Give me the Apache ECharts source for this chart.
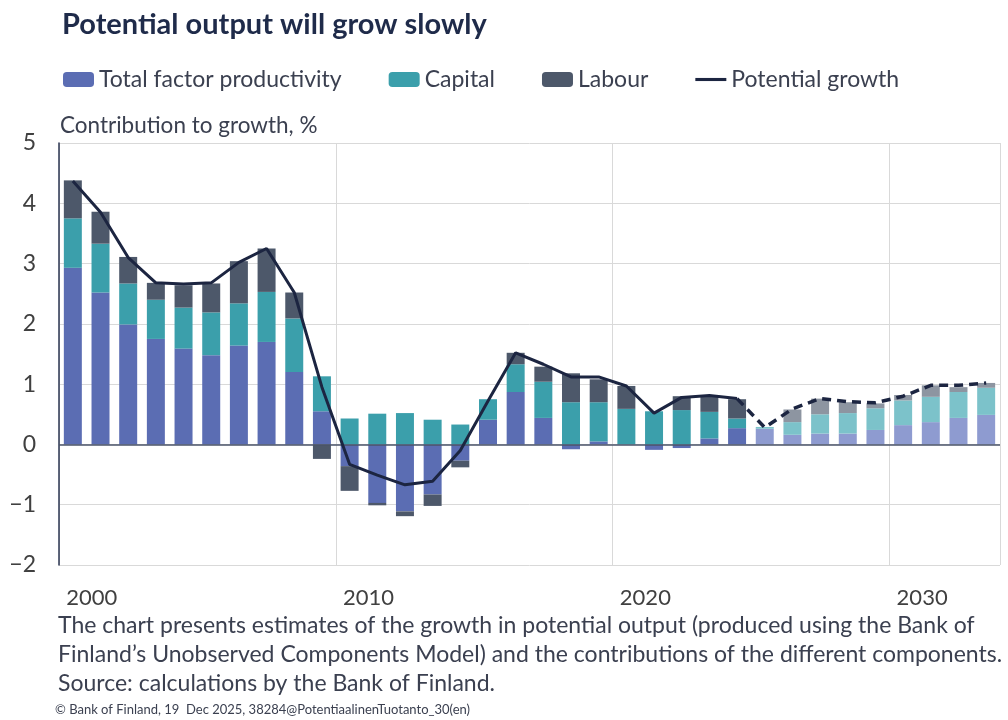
<!DOCTYPE html>
<html>
<head>
<meta charset="utf-8">
<title>Potential output will grow slowly</title>
<script src="https://cdn.jsdelivr.net/npm/echarts@6/dist/echarts.min.js"></script>
<style>
  html, body { margin: 0; padding: 0; background: #fff; }
  #chart { width: 1008px; height: 720px; }
</style>
</head>
<body>
<div id="chart"></div>
<script>
  // data (contribution to growth, %)
  const years = ['2000','2001','2002','2003','2004','2005','2006','2007','2008','2009',
                 '2010','2011','2012','2013','2014','2015','2016','2017','2018','2019',
                 '2020','2021','2022','2023','2024','2025','2026','2027','2028','2029',
                 '2030','2031','2032','2033'];
  const tfp = [2.93, 2.52, 1.99, 1.75, 1.59, 1.48, 1.64, 1.70, 1.20, 0.55,
               -0.36, -0.97, -1.11, -0.83, -0.27, 0.41, 0.87, 0.44, -0.08, 0.05,
               0.00, -0.09, -0.06, 0.10, 0.27, 0.26, 0.16, 0.18, 0.18, 0.24,
               0.32, 0.37, 0.44, 0.49];
  const capital = [0.82, 0.81, 0.68, 0.65, 0.68, 0.71, 0.70, 0.83, 0.89, 0.58,
                   0.43, 0.51, 0.52, 0.41, 0.33, 0.34, 0.46, 0.60, 0.70, 0.65,
                   0.59, 0.55, 0.57, 0.44, 0.16, 0.03, 0.21, 0.32, 0.34, 0.36,
                   0.41, 0.42, 0.43, 0.45];
  const labour = [0.63, 0.53, 0.44, 0.28, 0.37, 0.48, 0.70, 0.72, 0.43, -0.24,
                  -0.41, -0.04, -0.08, -0.19, -0.11, 0.00, 0.19, 0.25, 0.48, 0.38,
                  0.38, 0.00, 0.23, 0.26, 0.32, 0.00, 0.21, 0.26, 0.18, 0.08,
                  0.09, 0.19, 0.08, 0.08];
  const potential = [4.37, 3.85, 3.10, 2.68, 2.66, 2.68, 3.02, 3.25, 2.52, 0.95,
                     -0.33, -0.51, -0.67, -0.61, -0.10, 0.72, 1.52, 1.33, 1.12, 1.12,
                     0.97, 0.52, 0.78, 0.81, 0.76, 0.28, 0.59, 0.76, 0.71, 0.69,
                     0.80, 0.98, 0.98, 1.02];
  const lastActual = '2024';   // solid line up to here, dashed after
  const forecastFrom = '2025'; // bars drawn in lighter tones from here

  const font = 'Lato';
  const textCol = '#3b4050';

  const barData = (vals, base, light) => vals.map((v, i) => ({
    value: v,
    itemStyle: { color: years[i] >= forecastFrom ? light : base }
  }));
  const solid = potential.map((v, i) => years[i] <= lastActual ? v : null);
  const dashed = potential.map((v, i) => years[i] >= lastActual ? v : null);

  const chart = echarts.init(document.getElementById('chart'));
  const option = {
    animation: false,
    textStyle: { fontFamily: font },
    title: {
      text: 'Potential output will grow slowly',
      left: 57, top: 5,
      textStyle: { fontFamily: font, fontSize: 29, fontWeight: 'bold', color: '#1f2b4a' }
    },
    legend: {
      data: [
        { name: 'Total factor productivity' },
        { name: 'Capital' },
        { name: 'Labour' },
        { name: 'Potential growth', icon: 'path://M0,0H40V4H0Z' }
      ],
      left: 58, top: 63,
      itemWidth: 31, itemHeight: 15, itemGap: 47,
      textStyle: { fontFamily: font, fontSize: 23, color: textCol }
    },
    graphic: [
      { type: 'text', left: 60, top: 114,
        style: { text: 'Contribution to growth, %', font: '22.5px Lato', fill: textCol } },
      { type: 'text', left: 58, top: 614,
        style: { text: 'The chart presents estimates of the growth in potential output (produced using the Bank of', font: '23px Lato', fill: textCol } },
      { type: 'text', left: 58, top: 643,
        style: { text: 'Finland\u2019s Unobserved Components Model) and the contributions of the different components.', font: '23px Lato', fill: textCol } },
      { type: 'text', left: 58, top: 672,
        style: { text: 'Source: calculations by the Bank of Finland.', font: '23px Lato', fill: textCol } },
      { type: 'text', left: 55, top: 703,
        style: { text: '\u00a9 Bank of Finland, 19  Dec 2025, 38284@PotentiaalinenTuotanto_30(en)', font: '13px Lato', fill: textCol } }
    ],
    grid: { left: 59, right: 8, top: 143, bottom: 155 },
    xAxis: {
      type: 'category',
      data: years,
      boundaryGap: true,
      axisLine: { show: false },
      axisTick: { show: false },
      axisLabel: {
        interval: (i) => i % 10 === 0,
        fontSize: 22, color: '#404040', margin: 22,
        padding: [0, 0, 0, 38]
      },
      splitLine: {
        show: true,
        interval: (i) => i % 10 === 0,
        lineStyle: { color: '#d9d9d9', width: 1 }
      }
    },
    yAxis: {
      type: 'value',
      min: -2, max: 5, interval: 1,
      axisLine: { show: true, lineStyle: { color: '#2a3450', width: 1.5 } },
      axisTick: { show: false },
      axisLabel: {
        fontSize: 23, color: '#404040', margin: 23,
        formatter: (v) => v < 0 ? '\u2212' + Math.abs(v) : String(v)
      },
      splitLine: { lineStyle: { color: '#d9d9d9', width: 1 } }
    },
    series: [
      {
        name: 'Total factor productivity', type: 'bar', stack: 'c', barWidth: '65%',
        itemStyle: { color: '#5b6db3' },
        data: barData(tfp, '#5b6db3', '#8e9bd0'),
        markLine: {
          silent: true, symbol: 'none', label: { show: false },
          lineStyle: { color: '#4a5368', width: 1.5, type: 'solid' },
          data: [{ yAxis: 0 }]
        }
      },
      {
        name: 'Capital', type: 'bar', stack: 'c',
        itemStyle: { color: '#3b9fab' },
        data: barData(capital, '#3b9fab', '#7cc2ca')
      },
      {
        name: 'Labour', type: 'bar', stack: 'c',
        itemStyle: { color: '#4d586a' },
        data: barData(labour, '#4d586a', '#8d95a1')
      },
      {
        name: 'Potential growth', type: 'line', data: solid,
        symbol: 'none', z: 5,
        itemStyle: { color: '#1c2541' },
        lineStyle: { color: '#1c2541', width: 3 }
      },
      {
        name: 'Potential growth', type: 'line', data: dashed,
        symbol: 'none', z: 5,
        itemStyle: { color: '#1c2541' },
        lineStyle: { color: '#1c2541', width: 3.5, type: [9, 6] }
      }
    ]
  };
  chart.setOption(option);
</script>
</body>
</html>
